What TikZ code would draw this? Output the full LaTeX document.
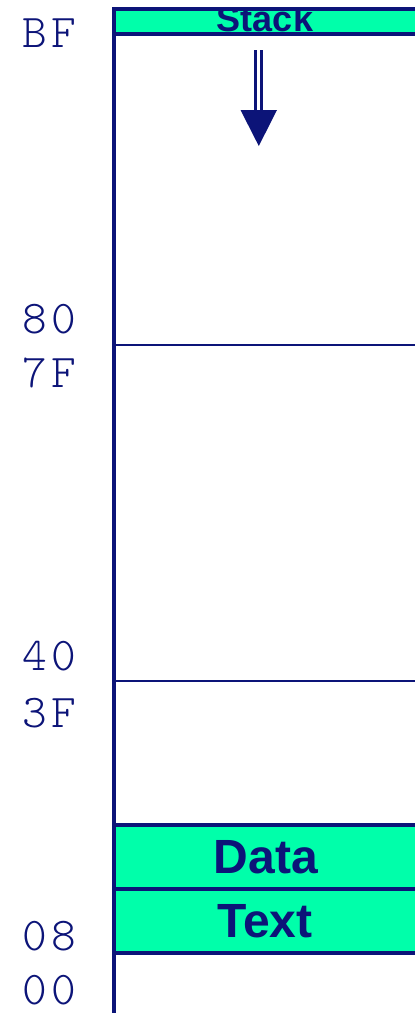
\documentclass[tikz,border=0pt]{standalone}
\usepackage{fontspec}
\setmainfont{Liberation Sans}
\newfontfamily\monof{Latin Modern Mono Light}
\definecolor{navy}{RGB}{12,20,120}
\definecolor{segfill}{RGB}{0,255,170}
\newcommand\hexpair[2]{\makebox[29pt][c]{#1}\makebox[29pt][c]{#2}}
\begin{document}
\begin{tikzpicture}[x=1pt,y=-1pt,
  segfillst/.style={fill=segfill},
  segborder/.style={draw=navy, line width=4pt},
  addr/.style={anchor=base west, inner sep=0pt, text=navy, font=\monof\fontsize{47}{47}\selectfont},
  seglabel/.style={text=navy, font=\bfseries\fontsize{48}{48}\selectfont, inner sep=0pt, anchor=base},
  divider/.style={draw=navy, line width=2pt},
  axis/.style={draw=navy, line width=4pt}]
\useasboundingbox (0,0) rectangle (415,1013);
% stack segment
\fill[segfillst] (114,9) rectangle (420,34);
\begin{scope}
  \clip (114,7) rectangle (420,36);
  \node[seglabel, font=\bfseries\fontsize{36}{36}\selectfont] (stack) at (265,31) {Stack};
\end{scope}
\draw[segborder] (114,9) rectangle (420,34);
% data and text segments
\fill[segfillst] (114,825) rectangle (420,953);
\node[seglabel] (data) at (266,873) {Data};
\node[seglabel] (text) at (265,937) {Text};
\draw[segborder] (114,825) rectangle (420,889);
\draw[segborder] (114,889) rectangle (420,953);
% dividers
\coordinate (d1l) at (114,345); \coordinate (d1r) at (420,345);
\coordinate (d2l) at (114,681); \coordinate (d2r) at (420,681);
\draw[divider] (d1l) -- (d1r);
\draw[divider] (d2l) -- (d2r);
% axis
\coordinate (axtop) at (114,7); \coordinate (axbot) at (114,1015);
\draw[axis] (axtop) -- (axbot);
% growth arrow
\coordinate (a1) at (255.7,50); \coordinate (a1e) at (255.7,111);
\coordinate (a2) at (261.2,50); \coordinate (a2e) at (261.2,111);
\draw[navy, line width=2.6pt] (a1) -- (a1e);
\draw[navy, line width=2.6pt] (a2) -- (a2e);
\fill[navy] (240.5,110) -- (277,110) -- (258.8,146) -- cycle;
% addresses
\node[addr] (bf) at (20,47) {\hexpair{B}{F}};
\node[addr] (a80) at (20,333) {\hexpair{8}{0}};
\node[addr] (a7f) at (20,387) {\hexpair{7}{F}};
\node[addr] (a40) at (20,670) {\hexpair{4}{0}};
\node[addr] (a3f) at (20,727) {\hexpair{3}{F}};
\node[addr] (a08) at (20,950) {\hexpair{0}{8}};
\node[addr] (a00) at (20,1004) {\hexpair{0}{0}};
\end{tikzpicture}
\end{document}
